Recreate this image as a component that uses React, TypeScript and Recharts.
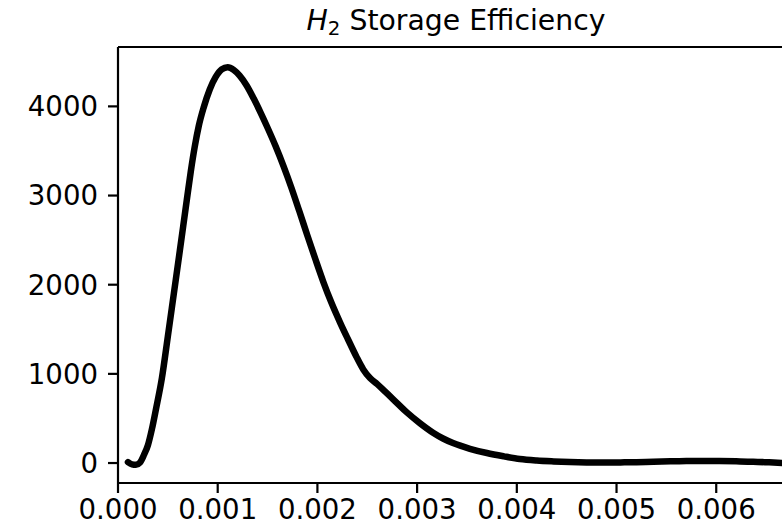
import React from 'react';
import { LineChart, Line, XAxis, YAxis, ReferenceLine } from 'recharts';

// x values in units of 0.001
const xThousandths = [
  0.10, 0.14, 0.18, 0.22, 0.26, 0.30, 0.34, 0.38, 0.44, 0.50,
  0.56, 0.62, 0.69, 0.73, 0.77, 0.81, 0.86, 0.92, 0.98, 1.04,
  1.10, 1.16, 1.22, 1.29, 1.36, 1.43, 1.50, 1.58, 1.66, 1.74,
  1.82, 1.90, 1.98, 2.06, 2.14, 2.23, 2.31, 2.39, 2.46, 2.53,
  2.60, 2.68, 2.76, 2.90, 3.03, 3.16, 3.26, 3.36, 3.53, 3.70,
  3.87, 4.03, 4.20, 4.37, 4.53, 4.70, 4.87, 5.04, 5.20, 5.37,
  5.54, 5.70, 5.87, 6.03, 6.20, 6.37, 6.52, 6.66, 6.72,
];
const efficiency = [
  10, -15, -20, 5, 90, 200, 380, 600, 950, 1420,
  1900, 2380, 2950, 3270, 3550, 3780, 3990, 4190, 4330, 4415,
  4440, 4410, 4345, 4235, 4090, 3930, 3760, 3555, 3330, 3085,
  2820, 2550, 2285, 2030, 1800, 1570, 1380, 1195, 1050, 950,
  885, 800, 715, 565, 445, 340, 275, 224, 160, 112,
  75, 45, 28, 18, 11, 7, 6, 7, 10, 15,
  19, 22, 23, 22, 19, 15, 8, 0, -4,
];
const xTicks = [0, 0.001, 0.002, 0.003, 0.004, 0.005, 0.006];
const yTicks = [0, 1000, 2000, 3000, 4000];

const X_MIN = 0;
const X_MAX = 0.00678;
const Y_MIN = -224;
const Y_MAX = 4666;

const data = xThousandths.map((x, i) => ({ x: x / 1000, y: efficiency[i] }));

const FONT = '"DejaVu Sans", sans-serif';
const FS = 27.6;
const TITLE_FS = 28.3;

export default function App() {
  const tickStyle = { fontSize: FS, fill: '#000', fontFamily: FONT };
  return (
    <div style={{ position: 'fixed', left: 0, top: 0, width: 782, height: 526, overflow: 'hidden', background: '#fff' }}>
      <svg width={782} height={50} style={{ position: 'absolute', left: 0, top: 0 }}>
        <text x={456} y={30} textAnchor="middle" fontFamily={FONT} fontSize={TITLE_FS} fill="#000">
          <tspan fontStyle="italic">H</tspan>
          <tspan fontSize={TITLE_FS * 0.7} dy={5}>2</tspan>
          <tspan dy={-5}> Storage Efficiency</tspan>
        </text>
      </svg>
      <div style={{ position: 'absolute', left: 0, top: 0 }}>
        <LineChart
          width={796}
          height={526}
          data={data}
          margin={{ top: 47, right: 2, bottom: 0, left: 0 }}
        >
          <XAxis
            dataKey="x"
            type="number"
            domain={[X_MIN, X_MAX]}
            ticks={xTicks}
            allowDataOverflow
            tickFormatter={(v: number) => v.toFixed(3)}
            height={43}
            tickSize={10}
            tickMargin={6}
            tick={tickStyle}
            axisLine={{ stroke: '#000', strokeWidth: 2.2 }}
            tickLine={{ stroke: '#000', strokeWidth: 2.2 }}
            interval={0}
          />
          <YAxis
            type="number"
            domain={[Y_MIN, Y_MAX]}
            ticks={yTicks}
            allowDataOverflow
            width={118}
            tickSize={10}
            tickMargin={10}
            tick={tickStyle}
            axisLine={{ stroke: '#000', strokeWidth: 2.2 }}
            tickLine={{ stroke: '#000', strokeWidth: 2.2 }}
            interval={0}
          />
          <ReferenceLine y={Y_MAX} stroke="#000" strokeWidth={2.2} />
          <ReferenceLine x={X_MAX} stroke="#000" strokeWidth={2.2} />
          <Line
            dataKey="y"
            type="monotone"
            stroke="#000"
            strokeWidth={6.5}
            dot={false}
            isAnimationActive={false}
            strokeLinejoin="round"
            strokeLinecap="round"
          />
        </LineChart>
      </div>
    </div>
  );
}
